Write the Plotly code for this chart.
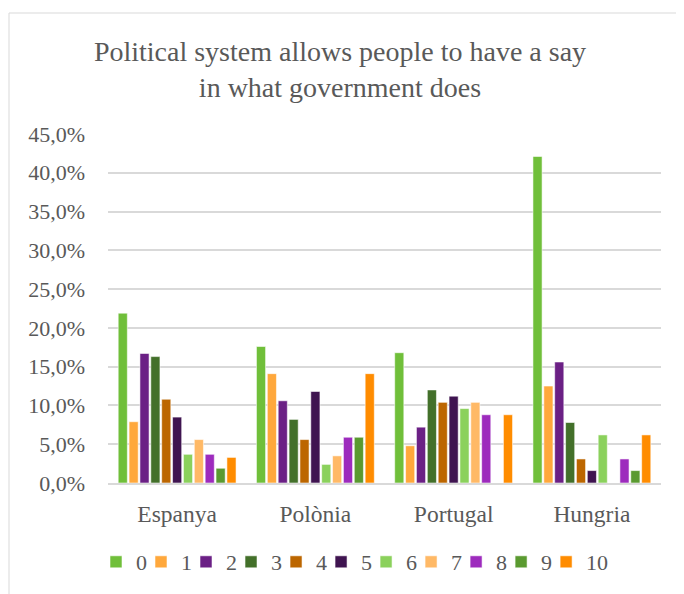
import plotly.graph_objects as go

countries = ["Espanya", "Polònia", "Portugal", "Hungria"]
series_names = ["0", "1", "2", "3", "4", "5", "6", "7", "8", "9", "10"]
# percentages per score, one list per score: [Espanya, Polònia, Portugal, Hungria]
s0 = [21.9, 17.6, 16.8, 42.1]
s1 = [7.9, 14.1, 4.8, 12.5]
s2 = [16.7, 10.6, 7.2, 15.6]
s3 = [16.3, 8.2, 12.0, 7.8]
s4 = [10.8, 5.6, 10.4, 3.1]
s5 = [8.5, 11.8, 11.2, 1.6]
s6 = [3.7, 2.4, 9.6, 6.2]
s7 = [5.6, 3.5, 10.4, None]
s8 = [3.7, 5.9, 8.8, 3.1]
s9 = [1.9, 5.9, None, 1.6]
s10 = [3.3, 14.1, 8.8, 6.2]
series_values = [s0, s1, s2, s3, s4, s5, s6, s7, s8, s9, s10]
colors = ["#70BF3A", "#FFA83C", "#6B2085", "#43702A", "#BC6600", "#3F1450",
          "#8BD15C", "#FFB966", "#9D2BBD", "#5A9A30", "#FF8C00"]
y_ticks = [0, 0.05, 0.10, 0.15, 0.20, 0.25, 0.30, 0.35, 0.40, 0.45]

FONT = "Liberation Serif"
GREY = "#595959"

fig = go.Figure()
for name, vals, col in zip(series_names, series_values, colors):
    fig.add_trace(go.Bar(
        x=countries,
        y=[v / 100 if v is not None else None for v in vals],
        name=name,
        marker=dict(color=col, line=dict(color="rgba(255,255,255,0.55)", width=1)),
    ))
# empty spacer entry so the last legend label ("10") is not clipped
fig.add_trace(go.Scatter(
    x=[None], y=[None], name="", mode="markers",
    marker=dict(color="rgba(0,0,0,0)", size=1), hoverinfo="skip",
))

# the page body has an 8px margin; work in figure coordinates = screen - 8
OFF = 8
W, H = 684 - OFF, 594 - OFF
plot_left, plot_right, plot_top, plot_bottom = 108 - OFF, 661 - OFF, 134 - OFF, 483 - OFF
L, R, T, B = plot_left, W - plot_right, plot_top, H - plot_bottom
pw, ph = W - L - R, H - T - B

def px_x(x):
    return (x - OFF - L) / pw

def px_y(y):
    return (H - B - (y - OFF)) / ph

fig.update_layout(
    width=W, height=H,
    margin=dict(l=L, r=R, t=T, b=B, autoexpand=False),
    paper_bgcolor="white", plot_bgcolor="white",
    separators=",.",
    font=dict(family=FONT, color=GREY, size=22),
    barmode="group",
    bargap=0.135,
    bargroupgap=0.16,
    title=dict(
        text="Political system allows people to have a say<br>in what government does",
        font=dict(family=FONT, size=28, color=GREY),
        x=(340 - OFF) / W, xanchor="center", xref="container",
        y=1 - (61 - OFF) / H, yanchor="top", yref="container",
    ),
    xaxis=dict(
        showgrid=False, showline=True, linecolor="#D9D9D9", linewidth=1.5,
        ticks="", tickfont=dict(family=FONT, size=23.5, color=GREY),
        ticklabelstandoff=9, automargin=False,
    ),
    yaxis=dict(
        range=[0, 0.45], tickvals=y_ticks, tickformat=".1%",
        showgrid=True, gridcolor="#D9D9D9", gridwidth=1.5,
        zeroline=False, showline=False, ticks="",
        tickfont=dict(family=FONT, size=22, color=GREY),
        ticklabelstandoff=22, automargin=False,
    ),
    legend=dict(
        orientation="h", x=px_x(96), xanchor="left", y=px_y(562), yanchor="middle",
        font=dict(family=FONT, size=22, color=GREY),
        traceorder="normal", itemwidth=30,
        entrywidth=0.01, entrywidthmode="pixels",
    ),
    shapes=[dict(
        type="rect", xref="paper", yref="paper",
        x0=px_x(9), x1=px_x(700), y0=px_y(610), y1=px_y(13),
        line=dict(color="#D9D9D9", width=1), fillcolor="rgba(0,0,0,0)", layer="below",
    )],
)

fig.write_html("out.html")
